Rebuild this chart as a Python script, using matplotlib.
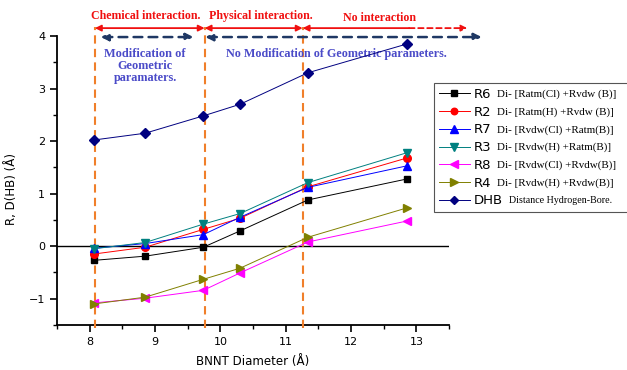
import numpy as np
import matplotlib.pyplot as plt
from matplotlib.ticker import MultipleLocator

# BNNT diameters (Angstrom)
diameter = [8.06, 8.85, 9.74, 10.3, 11.34, 12.86]

r6 = [-0.27, -0.19, -0.02, 0.29, 0.88, 1.28]
r2 = [-0.15, -0.02, 0.32, 0.53, 1.13, 1.68]
r7 = [-0.04, 0.05, 0.22, 0.55, 1.12, 1.53]
r3 = [-0.05, 0.07, 0.42, 0.62, 1.21, 1.78]
r8 = [-1.08, -0.99, -0.84, -0.51, 0.08, 0.48]
r4 = [-1.10, -0.97, -0.63, -0.42, 0.17, 0.73]
dhb = [2.02, 2.15, 2.48, 2.70, 3.30, 3.85]

labels = ["R6", "R2", "R7", "R3", "R8", "R4", "DHB"]
descriptions = ["Di- [Ratm(Cl) +Rvdw (B)]",
                "Di- [Ratm(H) +Rvdw (B)]",
                "Di- [Rvdw(Cl) +Ratm(B)]",
                "Di- [Rvdw(H) +Ratm(B)]",
                "Di- [Rvdw(Cl) +Rvdw(B)]",
                "Di- [Rvdw(H) +Rvdw(B)]",
                "Distance Hydrogen-Bore."]

# region boundaries (diameter)
boundaries = [8.08, 9.76, 11.26]

W, H = 627, 370
fig = plt.figure(figsize=(W / 100, H / 100), dpi=100)
ax = fig.add_axes([57 / W, 1 - 325 / H, (449 - 57) / W, (325 - 36) / H])

series = [r6, r2, r7, r3, r8, r4, dhb]
colors = ["black", "red", "blue", "#008080", "magenta", "#808000", "#000080"]
markers = ["s", "o", "^", "v", "<", ">", "D"]
sizes = [5, 5.5, 6, 6, 6, 6, 5]

handles = []
for y, c, m, s, lab in zip(series, colors, markers, sizes, labels):
    h, = ax.plot(diameter, y, color=c, marker=m, markersize=s, lw=0.7,
                 markeredgecolor=c, label=lab, zorder=4)
    handles.append(h)

ax.axhline(0, color="black", lw=1.0, zorder=2)

ax.set_xlim(7.5, 13.5)
ax.set_ylim(-1.5, 4)
ax.xaxis.set_major_locator(MultipleLocator(1))
ax.xaxis.set_minor_locator(MultipleLocator(0.5))
ax.yaxis.set_major_locator(MultipleLocator(1))
ax.yaxis.set_minor_locator(MultipleLocator(0.5))
ax.spines["top"].set_visible(False)
ax.spines["right"].set_visible(False)
for sp in ["left", "bottom"]:
    ax.spines[sp].set_linewidth(1.3)
ax.tick_params(which="major", length=5, width=1.2, labelsize=8, direction="out")
ax.tick_params(which="minor", length=3, width=1.0, direction="out")
ax.set_xlabel("BNNT Diameter (Å)", fontsize=8.5, labelpad=6)
ax.set_ylabel("R, D(HB) (Å)", fontsize=8.5)
ax.yaxis.set_label_coords(-0.1, 0.47)

# region boundaries
for b in boundaries:
    ax.plot([b, b], [-1.55, 4.17], color="#f07f2a", lw=1.5, ls=(0, (4, 2.5)),
            clip_on=False, zorder=3)

# red interaction arrows
ya = 4.15
red = "#f01010"
kw = dict(arrowstyle="<|-|>", color=red, lw=1.3, shrinkA=0, shrinkB=0,
          mutation_scale=9)
ax.annotate("", xy=(9.76, ya), xytext=(8.08, ya), arrowprops=kw,
            annotation_clip=False)
ax.annotate("", xy=(11.26, ya), xytext=(9.76, ya), arrowprops=kw,
            annotation_clip=False)
ax.annotate("", xy=(11.26, ya), xytext=(12.89, ya), annotation_clip=False,
            arrowprops=dict(arrowstyle="-|>", color=red, lw=1.3, shrinkA=0,
                            shrinkB=0, mutation_scale=9))
ax.annotate("", xy=(13.78, ya), xytext=(12.89, ya), annotation_clip=False,
            arrowprops=dict(arrowstyle="-|>", color=red, lw=1.3, shrinkA=0,
                            shrinkB=0, mutation_scale=9, ls=(0, (3, 2))))

serif = ["Liberation Serif", "DejaVu Serif"]
ax.text(8.85, 4.38, "Chemical interaction.", color=red, fontsize=8.6,
        fontweight="bold", family=serif, ha="center", va="center")
ax.text(10.62, 4.38, "Physical interaction.", color=red, fontsize=8.6,
        fontweight="bold", family=serif, ha="center", va="center")
ax.text(12.44, 4.34, "No interaction", color=red, fontsize=8.6,
        fontweight="bold", family=serif, ha="center", va="center")

# navy geometry arrows
yb = 3.98
navy = "#1f3864"
kw2 = dict(arrowstyle="<|-|>", color=navy, lw=1.8, shrinkA=0, shrinkB=0,
           mutation_scale=11, ls=(0, (3.5, 2.5)))
ax.annotate("", xy=(9.59, yb), xytext=(8.17, yb), arrowprops=kw2,
            annotation_clip=False)
ax.annotate("", xy=(14.0, yb), xytext=(9.77, yb), arrowprops=kw2,
            annotation_clip=False)

blue = "#4b4bc8"
ax.text(8.85, 3.43, "Modification of\nGeometric\nparamaters.", color=blue,
        fontsize=8.8, fontweight="bold", family=serif, ha="center",
        va="center", linespacing=1.05)
ax.text(11.78, 3.66, "No Modification of Geometric parameters.", color=blue,
        fontsize=8.7, fontweight="bold", family=serif, ha="center", va="center")

# legend
leg = fig.legend(handles=handles, labels=labels, loc="upper left",
                 bbox_to_anchor=(434 / W, 1 - 87 / H, 0.4, 0.01),
                 mode="expand", borderaxespad=0, fancybox=False,
                 edgecolor="#555555", framealpha=1, fontsize=9.5,
                 handlelength=2.4, handletextpad=0.25, labelspacing=0.36,
                 borderpad=0.35, markerscale=0.85)
leg.get_frame().set_linewidth(0.8)

fig.canvas.draw()
renderer = fig.canvas.get_renderer()
for t, d in zip(leg.get_texts(), descriptions):
    bb = t.get_window_extent(renderer)
    fs = 7.2 if d.startswith("Distance") else 7.9
    fig.text((bb.x1 + 6) / W, (bb.y0 + bb.y1) / 2 / H, d, fontsize=fs,
             family=serif, va="center", ha="left", zorder=10)

fig.savefig("out.png", dpi=100)
